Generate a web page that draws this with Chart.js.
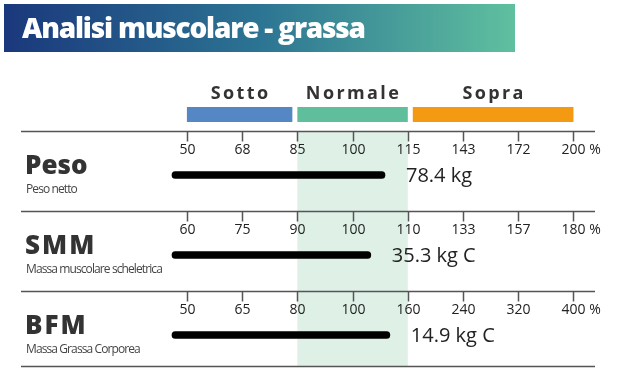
<!DOCTYPE html>
<html>
<head>
<meta charset="utf-8">
<script src="https://cdn.jsdelivr.net/npm/chart.js@4.4.1/dist/chart.umd.min.js"></script>
<style>
  html, body { margin: 0; padding: 0; background: #fff; }
  #wrap { width: 622px; height: 373px; }
</style>
</head>
<body>
<div id="wrap"><canvas id="chart" width="622" height="373"></canvas></div>
<script>
// ---- data ----
const titleText = "Analisi muscolare - grassa";
const rangeLabels = ["Sotto", "Normale", "Sopra"];
const rowNames = ["Peso", "SMM", "BFM"];
const rowSubtitles = ["Peso netto", "Massa muscolare scheletrica", "Massa Grassa Corporea"];
const pesoTicks = [50, 68, 85, 100, 115, 143, 172, 200];
const smmTicks = [60, 75, 90, 100, 110, 133, 157, 180];
const bfmTicks = [50, 65, 80, 100, 160, 240, 320, 400];
const percentValues = [108.8, 103.3, 140.5];
const valueLabels = ["78.4 kg", "35.3 kg C", "14.9 kg C"];

const tickSets = [pesoTicks, smmTicks, bfmTicks];

// ---- layout ----
const X_MIN = -0.27;
const X_MAX = 7.39;
const FONT = "'Open Sans', 'Noto Sans', sans-serif";

// percent -> position on the evenly spaced tick index scale
function toIndex(p, ticks) {
  for (let i = 0; i < ticks.length - 1; i++) {
    if (p <= ticks[i + 1]) {
      return i + (p - ticks[i]) / (ticks[i + 1] - ticks[i]);
    }
  }
  return ticks.length - 1;
}

const barData = percentValues.map((p, i) => [X_MIN, toIndex(p, tickSets[i])]);

const decor = {
  id: "decor",
  beforeDatasetsDraw(chart) {
    const ctx = chart.ctx;
    const x = chart.scales.x;
    const y = chart.scales.y;
    ctx.save();

    // banner
    const g = ctx.createLinearGradient(4, 0, 515, 0);
    g.addColorStop(0, "#1a387c");
    g.addColorStop(0.5, "#2c7493");
    g.addColorStop(1, "#5fc09f");
    ctx.fillStyle = g;
    ctx.fillRect(4, 4, 511, 48);
    ctx.fillStyle = "#fff";
    ctx.font = "800 28px " + FONT;
    ctx.letterSpacing = "-1.2px";
    ctx.textAlign = "left";
    ctx.textBaseline = "alphabetic";
    ctx.fillText(titleText, 22, 38);
    ctx.letterSpacing = "0px";

    // range bars and labels
    const rangeColors = ["#5587c4", "#5fbf9c", "#f39a12"];
    const rangeSpan = [[0, 2], [2, 4], [4, 7]];
    ctx.font = "bold 18px " + FONT;
    ctx.letterSpacing = "2.4px";
    ctx.textAlign = "center";
    ctx.textBaseline = "middle";
    rangeSpan.forEach((s, i) => {
      let x0 = x.getPixelForValue(s[0]);
      let x1 = x.getPixelForValue(s[1]);
      if (i === 0) x1 -= 5;
      if (i === 2) x0 += 5;
      ctx.fillStyle = rangeColors[i];
      ctx.fillRect(x0, 107, x1 - x0, 15);
      ctx.fillStyle = "#333";
      ctx.fillText(rangeLabels[i], (x0 + x1) / 2 + 1, 94);
    });
    ctx.letterSpacing = "0px";

    // normal band
    const top = y.getPixelForValue(0) - 44;
    const bottom = y.getPixelForValue(2) + 31;
    ctx.fillStyle = "#dff0e7";
    const b0 = x.getPixelForValue(2);
    const b1 = x.getPixelForValue(4);
    ctx.fillRect(b0, top, b1 - b0, bottom - top);

    // rows
    ctx.strokeStyle = "#555";
    ctx.lineWidth = 1.5;
    rowNames.forEach((name, i) => {
      const cy = y.getPixelForValue(i);
      const ay = Math.round(cy - 44) + 0.5;
      ctx.beginPath();
      ctx.moveTo(21, ay);
      ctx.lineTo(595, ay);
      ctx.stroke();

      tickSets[i].forEach((t, k) => {
        const px = Math.round(x.getPixelForValue(k)) + 0.5;
        ctx.beginPath();
        ctx.moveTo(px, ay);
        ctx.lineTo(px, ay + 10);
        ctx.stroke();
        ctx.fillStyle = "#222";
        ctx.font = "14px " + FONT;
        ctx.textAlign = "center";
        ctx.textBaseline = "middle";
        ctx.fillText(String(t), px, ay + 19);
        if (k === tickSets[i].length - 1) {
          const w = ctx.measureText(String(t)).width;
          ctx.textAlign = "left";
          ctx.fillText(" %", px + w / 2, ay + 19);
        }
      });

      // name + subtitle
      ctx.fillStyle = "#333";
      ctx.font = "800 26px " + FONT;
      ctx.textAlign = "left";
      ctx.textBaseline = "alphabetic";
      ctx.letterSpacing = i === 0 ? "0px" : "2px";
      ctx.fillText(name, 25, cy - 1);
      ctx.letterSpacing = "-0.9px";
      ctx.fillStyle = "#444";
      ctx.font = "12px " + FONT;
      ctx.textBaseline = "middle";
      ctx.fillText(rowSubtitles[i], 26, cy + 15);
      ctx.letterSpacing = "0px";
    });

    const ly = Math.round(bottom) + 0.5;
    ctx.beginPath();
    ctx.moveTo(21, ly);
    ctx.lineTo(595, ly);
    ctx.stroke();
    ctx.restore();
  },
  afterDatasetsDraw(chart) {
    const ctx = chart.ctx;
    const x = chart.scales.x;
    const y = chart.scales.y;
    ctx.save();
    ctx.fillStyle = "#222";
    ctx.font = "20px " + FONT;
    ctx.textAlign = "left";
    ctx.textBaseline = "middle";
    barData.forEach((d, i) => {
      ctx.fillText(valueLabels[i], x.getPixelForValue(d[1]) + 21, y.getPixelForValue(i) + 1);
    });
    ctx.restore();
  }
};

new Chart(document.getElementById("chart"), {
  type: "bar",
  data: {
    labels: rowNames,
    datasets: [{
      data: barData,
      backgroundColor: "#000",
      barThickness: 7,
      borderRadius: 4,
      borderSkipped: false,
      clip: false
    }]
  },
  options: {
    indexAxis: "y",
    responsive: false,
    animation: false,
    layout: { padding: { left: 172, right: 27, top: 175, bottom: 38 } },
    scales: {
      x: { type: "linear", min: X_MIN, max: X_MAX, display: false },
      y: { display: false, offset: false }
    },
    plugins: { legend: { display: false }, tooltip: { enabled: false } }
  },
  plugins: [decor]
});
</script>
</body>
</html>
